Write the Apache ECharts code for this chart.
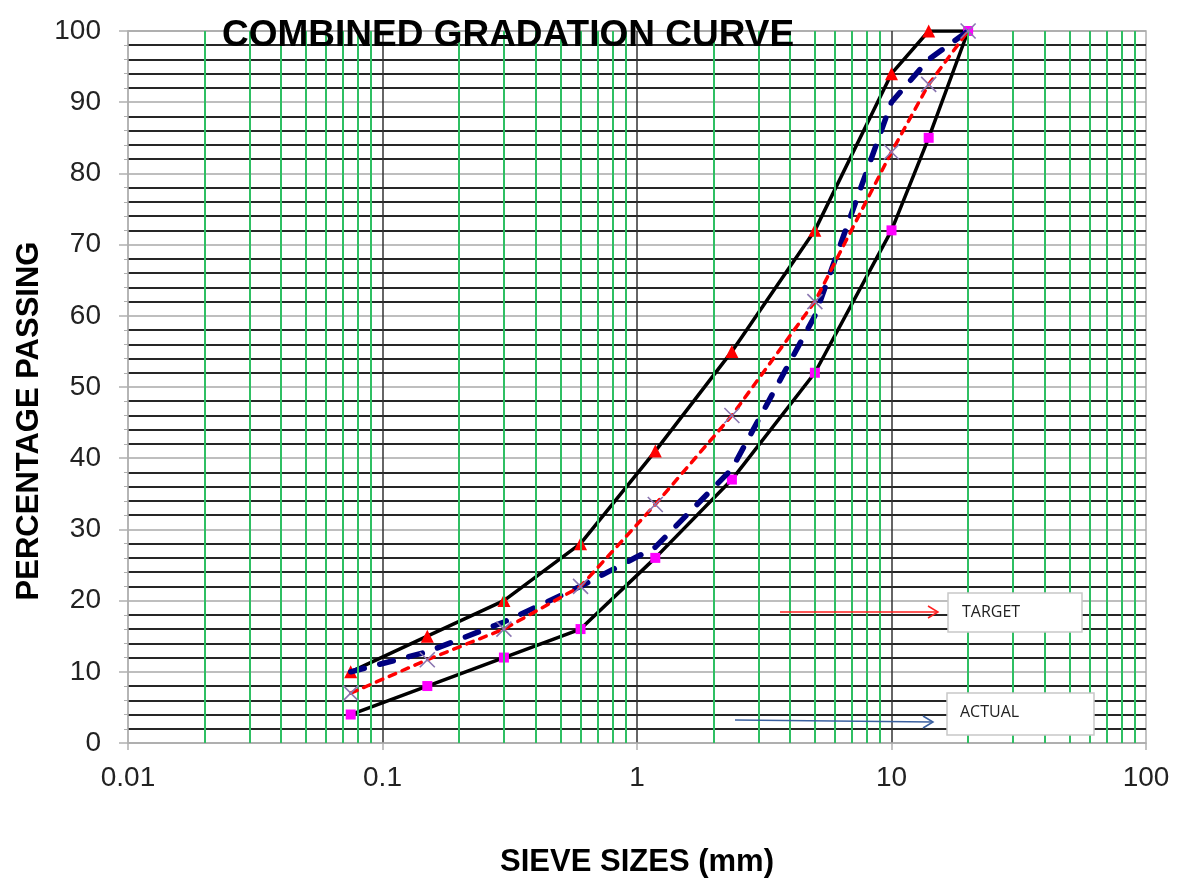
<!DOCTYPE html>
<html>
<head>
<meta charset="utf-8">
<script src="https://cdn.jsdelivr.net/npm/echarts@6/dist/echarts.min.js"></script>
<style>
html,body{margin:0;padding:0;background:#fff;}
#chart{width:1181px;height:880px;}
</style>
</head>
<body>
<div id="chart"></div>
<script>
// ---- data ----
const sieveSizes = [0.075, 0.15, 0.3, 0.6, 1.18, 2.36, 5, 10, 14, 20];
const upperLimit = [10, 15, 20, 28, 41, 55, 72, 94, 100, 100];
const lowerLimit = [4, 8, 12, 16, 26, 37, 52, 72, 85, 100];
const targetPassing = [7, 11.7, 16, 22, 33.5, 46, 62, 83, 92.5, 100];
const actualPassing = [10, 12.8, 17, 22, 27.5, 38.5, 60, 90, 96, 100];
const xTickLabels = ['0.01', '0.1', '1', '10', '100'];
const yTickLabels = ['0', '10', '20', '30', '40', '50', '60', '70', '80', '90', '100'];
const decades = [0.01, 0.1, 1, 10];
const subSteps = [2, 3, 4, 5, 6, 7, 8, 9];

const chartTitle = 'COMBINED GRADATION CURVE';
const xTitle = 'SIEVE SIZES (mm)';
const yTitle = 'PERCENTAGE PASSING';

const pair = (ys) => sieveSizes.map((x, i) => [x, ys[i]]);
const minorX = [];
decades.forEach(d => subSteps.forEach(s => minorX.push({ xAxis: +(d * s).toPrecision(3) })));

const FONT = '"Liberation Sans", Arial, sans-serif';
const crossPath = 'path://M0,0L10,10M10,0L0,10';

const chart = echarts.init(document.getElementById('chart'), null, { renderer: 'canvas' });
chart.setOption({
  animation: false,
  backgroundColor: '#ffffff',
  grid: { left: 128, top: 31, right: 35, bottom: 137, show: true, borderColor: '#b0b0b0', borderWidth: 1.5, backgroundColor: 'transparent' },
  xAxis: {
    type: 'log', logBase: 10, min: 0.01, max: 100,
    axisLine: { show: true, lineStyle: { color: '#b0b0b0', width: 1.5 } },
    axisTick: { show: true, length: 7, lineStyle: { color: '#b0b0b0', width: 1.5 } },
    axisLabel: {
      margin: 21, fontSize: 28, fontFamily: FONT, color: '#222',
      formatter: (v) => {
        const k = Math.round(Math.log10(v)) + 2;
        return xTickLabels[k] !== undefined ? xTickLabels[k] : '';
      }
    },
    splitLine: { show: true, showMinLine: false, showMaxLine: false, lineStyle: { color: '#333', width: 1.5 } },
    minorTick: { show: false }, minorSplitLine: { show: false }
  },
  yAxis: {
    type: 'value', min: 0, max: 100, interval: 10,
    axisLine: { show: true, lineStyle: { color: '#b0b0b0', width: 1.5 } },
    axisTick: { show: true, length: 9, lineStyle: { color: '#b0b0b0', width: 1.5 } },
    axisLabel: {
      margin: 27, fontSize: 28, fontFamily: FONT, color: '#222',
      formatter: (v) => yTickLabels[Math.round(v / 10)]
    },
    splitLine: { show: true, lineStyle: { color: '#a8a8a8', width: 1.5 } },
    minorTick: { show: true, splitNumber: 5, length: 4, lineStyle: { color: '#b0b0b0', width: 1 } },
    minorSplitLine: { show: true, lineStyle: { color: '#262626', width: 2 } }
  },
  series: [
    {
      name: 'minor-grid', type: 'line', data: [[0.01, 0]], showSymbol: false, silent: true, z: 1,
      lineStyle: { opacity: 0 },
      markLine: {
        silent: true, symbol: ['none', 'none'], label: { show: false },
        lineStyle: { color: '#2fbf63', width: 2, type: 'solid' },
        emphasis: { disabled: true },
        data: minorX
      }
    },
    {
      name: 'Upper limit', type: 'line', data: pair(upperLimit), z: 3,
      symbol: (v, p) => (p.dataIndex === sieveSizes.length - 1 ? 'none' : 'triangle'),
      symbolSize: 13,
      lineStyle: { color: '#000', width: 3.5 },
      itemStyle: { color: '#ff0000' }
    },
    {
      name: 'Lower limit', type: 'line', data: pair(lowerLimit), z: 3,
      symbol: 'rect', symbolSize: 10,
      lineStyle: { color: '#000', width: 3.5 },
      itemStyle: { color: '#ff00ff' }
    },
    {
      name: 'ACTUAL', type: 'line', data: pair(actualPassing), z: 4,
      showSymbol: false, symbol: 'none',
      lineStyle: { color: '#000080', width: 5.5, type: [14, 16], cap: 'round' }
    },
    {
      name: 'TARGET', type: 'line', data: pair(targetPassing), z: 5,
      symbol: crossPath, symbolSize: 15,
      lineStyle: { color: '#ff0000', width: 3.5, type: [7, 7], cap: 'round' },
      itemStyle: { color: 'rgba(0,0,0,0)', borderColor: '#8a76b0', borderWidth: 1.6 }
    }
  ],
  graphic: [
    { type: 'text', z: 20, style: { text: chartTitle, fontSize: 37, fontWeight: 'bold', fontFamily: FONT, fill: '#000', x: 508, y: 36, textAlign: 'center', textVerticalAlign: 'middle' } },
    { type: 'text', z: 20, style: { text: xTitle, fontSize: 31, fontWeight: 'bold', fontFamily: FONT, fill: '#000', x: 637, y: 862, textAlign: 'center', textVerticalAlign: 'middle' } },
    { type: 'text', z: 20, x: 29, y: 421, rotation: Math.PI / 2, style: { text: yTitle, fontSize: 31, fontWeight: 'bold', fontFamily: FONT, fill: '#000', x: 0, y: 0, textAlign: 'center', textVerticalAlign: 'middle' } },
    // TARGET annotation
    { type: 'line', z: 20, shape: { x1: 780, y1: 612, x2: 938, y2: 612 }, style: { stroke: '#ff2020', lineWidth: 1.5 } },
    { type: 'polyline', z: 20, shape: { points: [[928, 606], [938, 612], [928, 618]] }, style: { stroke: '#ff2020', lineWidth: 1.5, fill: null } },
    { type: 'rect', z: 20, shape: { x: 948, y: 593, width: 134, height: 39 }, style: { fill: '#fff', stroke: '#c8c8c8', lineWidth: 1.5 } },
    { type: 'text', z: 21, style: { text: 'TARGET', x: 962, y: 612, fontSize: 16, fontFamily: '"Open Sans", "Noto Sans", sans-serif', fill: '#222', textVerticalAlign: 'middle' } },
    // ACTUAL annotation
    { type: 'line', z: 20, shape: { x1: 735, y1: 720, x2: 933, y2: 722 }, style: { stroke: '#3a60a0', lineWidth: 1.5 } },
    { type: 'polyline', z: 20, shape: { points: [[923, 716], [933, 722], [923, 728]] }, style: { stroke: '#3a60a0', lineWidth: 1.5, fill: null } },
    { type: 'rect', z: 20, shape: { x: 947, y: 693, width: 147, height: 42 }, style: { fill: '#fff', stroke: '#c8c8c8', lineWidth: 1.5 } },
    { type: 'text', z: 21, style: { text: 'ACTUAL', x: 960, y: 712, fontSize: 16, fontFamily: '"Open Sans", "Noto Sans", sans-serif', fill: '#222', textVerticalAlign: 'middle' } }
  ]
});
</script>
</body>
</html>
